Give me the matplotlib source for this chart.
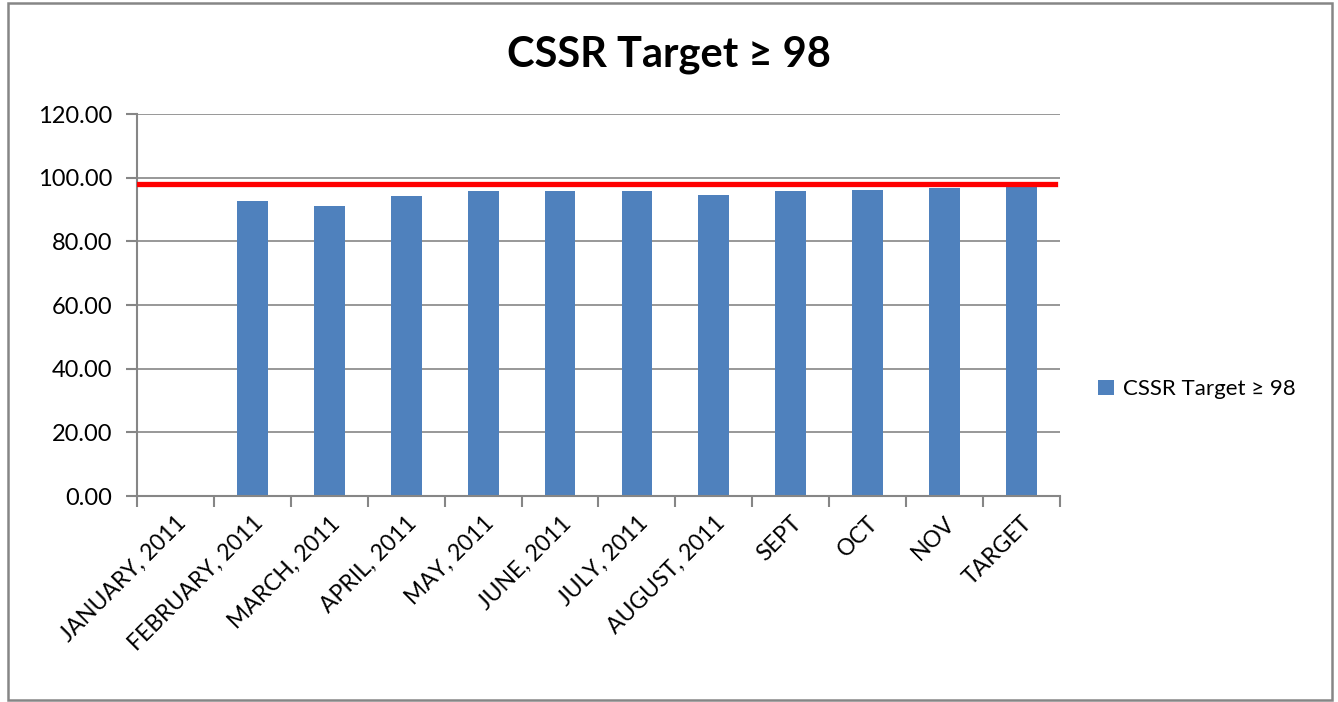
import matplotlib as mpl
mpl.use('Agg')
import numpy as np
import matplotlib.pyplot as plt
from matplotlib.patches import Rectangle

# monthly CSSR values (January has no bar)
months = ['JANUARY, 2011', 'FEBRUARY, 2011', 'MARCH, 2011', 'APRIL, 2011',
          'MAY, 2011', 'JUNE, 2011', 'JULY, 2011', 'AUGUST, 2011',
          'SEPT', 'OCT', 'NOV', 'TARGET']
cssr = [0.0, 92.8, 91.1, 94.2, 95.8, 95.8, 95.8, 94.6, 95.8, 96.1, 96.7, 98.0]
target = 98.0
series_name = 'CSSR Target \u2265 98'
yticks = [0, 20, 40, 60, 80, 100, 120]

plt.rcParams['font.family'] = ['Lato', 'DejaVu Sans']

fig = plt.figure(figsize=(13.38, 7.02), dpi=100)
ax = fig.add_axes([0.1024, 0.2934, 0.6898, 0.5442])

x = np.arange(len(months))
ax.bar(x, cssr, width=0.4, color='#4F81BD', label=series_name, zorder=2)
ax.axhline(target, xmin=0, xmax=0.995, color='#FF0000', lw=3.8, zorder=3)

ax.set_xlim(-0.5, len(months) - 0.5)
ax.set_ylim(0, 120)
ax.set_yticks(yticks)
ax.set_yticklabels(['%.2f' % v for v in yticks], fontsize=17)
ax.yaxis.grid(True, color='#868686', lw=1.2, zorder=0)
ax.set_axisbelow(True)

# category boundaries as x ticks, labels at centers
ax.set_xticks(np.arange(len(months) + 1) - 0.5)
ax.set_xticklabels([])
ax.set_xticks(x, minor=True)
ax.set_xticklabels(months, minor=True, rotation=45, ha='right',
                   rotation_mode='anchor', fontsize=16.5)
ax.tick_params(axis='x', which='minor', length=0, pad=12)
ax.tick_params(axis='x', which='major', length=8, color='#868686', width=1.5)
ax.tick_params(axis='y', length=8, color='#868686', width=1.5, pad=10)

for s in ['top', 'right']:
    ax.spines[s].set_visible(False)
for s in ['left', 'bottom']:
    ax.spines[s].set_color('#868686')
    ax.spines[s].set_linewidth(1.5)

fig.text(0.5, 0.922, series_name, ha='center', va='center',
         fontsize=30, fontweight='bold')

ax.legend(loc='center left', bbox_to_anchor=(1.02, 0.28), frameon=False,
          fontsize=16, handlelength=0.7, handleheight=0.7, handletextpad=0.4)

fig.patches.append(Rectangle((8 / 1338, 2 / 702), 1324 / 1338, 697 / 702,
                             transform=fig.transFigure, fill=False,
                             edgecolor='#868686', lw=1.8))

plt.savefig('out.png', dpi=100)
